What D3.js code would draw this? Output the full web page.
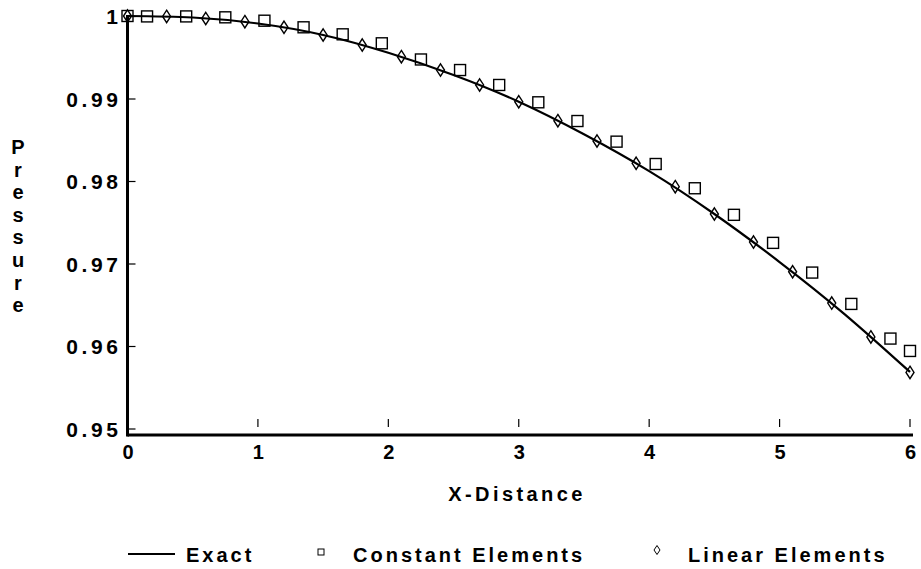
<!DOCTYPE html>
<html>
<head>
<meta charset="utf-8">
<script src="https://d3js.org/d3.v7.min.js"></script>
<style>
  body { margin: 0; background: #fff; }
  svg text { font-family: "Liberation Sans", Arial, sans-serif; font-weight: bold; fill: #000; }
</style>
</head>
<body>
<script>
// exact solution
var exactX = [0, 0.5, 1, 1.5, 2, 2.5, 3, 3.5, 4, 4.5, 5, 5.5, 6];
var exactP = [1.0, 0.99982, 0.99909, 0.9977, 0.99554, 0.99285, 0.98961, 0.98567, 0.9812, 0.976, 0.97018, 0.96384, 0.95685];

// constant elements (squares)
var constX = [0, 0.15, 0.45, 0.75, 1.05, 1.35, 1.65, 1.95, 2.25, 2.55, 2.85, 3.15, 3.45, 3.75, 4.05, 4.35, 4.65, 4.95, 5.25, 5.55, 5.85, 6];
var constP = [1.0, 0.99995, 0.99995, 0.99984, 0.99943, 0.99863, 0.99778, 0.99669, 0.99473, 0.99345, 0.99164, 0.98954, 0.98727, 0.98477, 0.98206, 0.97912, 0.9759, 0.9725, 0.9689, 0.9651, 0.9609, 0.9594];

// linear elements (diamonds)
var linX = [0, 0.3, 0.6, 0.9, 1.2, 1.5, 1.8, 2.1, 2.4, 2.7, 3.0, 3.3, 3.6, 3.9, 4.2, 4.5, 4.8, 5.1, 5.4, 5.7, 6.0];
var linP = [1.0, 0.99995, 0.9997, 0.99931, 0.99863, 0.9977, 0.99648, 0.99507, 0.99345, 0.99164, 0.98961, 0.98731, 0.98485, 0.98215, 0.97931, 0.976, 0.9726, 0.969, 0.9652, 0.9611, 0.9568];

var xTicks = [0, 1, 2, 3, 4, 5, 6];
var yTicks = [0.95, 0.96, 0.97, 0.98, 0.99, 1.0];
var yTickLabels = ["0.95", "0.96", "0.97", "0.98", "0.99", "1"];
var legendLabels = ["Exact", "Constant Elements", "Linear Elements"];

var W = 921, H = 569;
var svg = d3.select("body").append("svg").attr("width", W).attr("height", H);

var x = d3.scaleLinear().domain([0, 6]).range([127.5, 910]);
var y = d3.scaleLinear().domain([0.95, 1]).range([428.5, 16]);
var axisY = 435;

// y axis: ticks pointing into the plot
var gy = svg.append("g").attr("transform", "translate(" + x(0) + ",0)")
  .call(d3.axisLeft(y).tickValues(yTicks).tickSize(-8).tickPadding(6)
    .tickFormat(function (d, i) { return yTickLabels[i]; }));
gy.select(".domain").remove();
gy.selectAll(".tick line").attr("stroke", "#000").attr("stroke-width", 1.2);
gy.selectAll(".tick text").style("font-size", "21px").style("letter-spacing", "3.6px").attr("dy", "0.36em");

// x axis labels
var gx = svg.append("g").attr("transform", "translate(0," + axisY + ")")
  .call(d3.axisBottom(x).tickValues(xTicks).tickSize(0).tickPadding(10).tickFormat(d3.format("d")));
gx.select(".domain").remove();
gx.selectAll(".tick text").style("font-size", "20px");

// detached x tick marks
svg.append("g").selectAll("line").data(xTicks.slice(1)).join("line")
  .attr("x1", function (d) { return x(d); }).attr("x2", function (d) { return x(d); })
  .attr("y1", axisY - 16).attr("y2", axisY - 8)
  .attr("stroke", "#000").attr("stroke-width", 1.2);

// axis lines
svg.append("line").attr("x1", x(0)).attr("x2", x(0)).attr("y1", y(1) - 1).attr("y2", axisY + 1.5)
  .attr("stroke", "#000").attr("stroke-width", 3);
svg.append("line").attr("x1", x(0)).attr("x2", x(6) + 3).attr("y1", axisY).attr("y2", axisY)
  .attr("stroke", "#000").attr("stroke-width", 3);

// exact curve
var exact = exactX.map(function (d, i) { return [d, exactP[i]]; });
svg.append("path").datum(exact)
  .attr("fill", "none").attr("stroke", "#000").attr("stroke-width", 2.2)
  .attr("d", d3.line().x(function (d) { return x(d[0]); }).y(function (d) { return y(d[1]); })
    .curve(d3.curveNatural));

// squares
svg.append("g").selectAll("rect").data(constX).join("rect")
  .attr("x", function (d) { return x(d) - 5.5; })
  .attr("y", function (d, i) { return y(constP[i]) - 5.5; })
  .attr("width", 11).attr("height", 11)
  .attr("fill", "none").attr("stroke", "#000").attr("stroke-width", 1.4);

// narrow diamonds
function diamond(w, h) { return "M0," + (-h) + "L" + w + ",0L0," + h + "L" + (-w) + ",0Z"; }
svg.append("g").selectAll("path").data(linX).join("path")
  .attr("transform", function (d, i) { return "translate(" + x(d) + "," + y(linP[i]) + ")"; })
  .attr("d", diamond(4, 6.2))
  .attr("fill", "none").attr("stroke", "#000").attr("stroke-width", 1.4);

// axis titles
svg.append("text").attr("x", 517).attr("y", 501).attr("text-anchor", "middle")
  .style("font-size", "20px").style("letter-spacing", "3.4px").text("X-Distance");

svg.append("g").selectAll("text").data("Pressure".split("")).join("text")
  .attr("x", 18).attr("y", function (d, i) { return 154 + i * 22.6; })
  .attr("text-anchor", "middle").style("font-size", "20px").text(function (d) { return d; });

// legend
var lg = svg.append("g");
lg.append("line").attr("x1", 128).attr("x2", 175).attr("y1", 554).attr("y2", 554)
  .attr("stroke", "#000").attr("stroke-width", 2);
lg.append("rect").attr("x", 318).attr("y", 549).attr("width", 6).attr("height", 6)
  .attr("fill", "none").attr("stroke", "#000").attr("stroke-width", 1);
lg.append("path").attr("transform", "translate(657,550)").attr("d", diamond(3, 4.5))
  .attr("fill", "none").attr("stroke", "#000").attr("stroke-width", 1);
var legX = [186, 353, 688];
lg.selectAll("text.leg").data(legendLabels).join("text").attr("class", "leg")
  .attr("x", function (d, i) { return legX[i]; }).attr("y", 562)
  .style("font-size", "20px").style("letter-spacing", "3px").text(function (d) { return d; });
</script>
</body>
</html>
